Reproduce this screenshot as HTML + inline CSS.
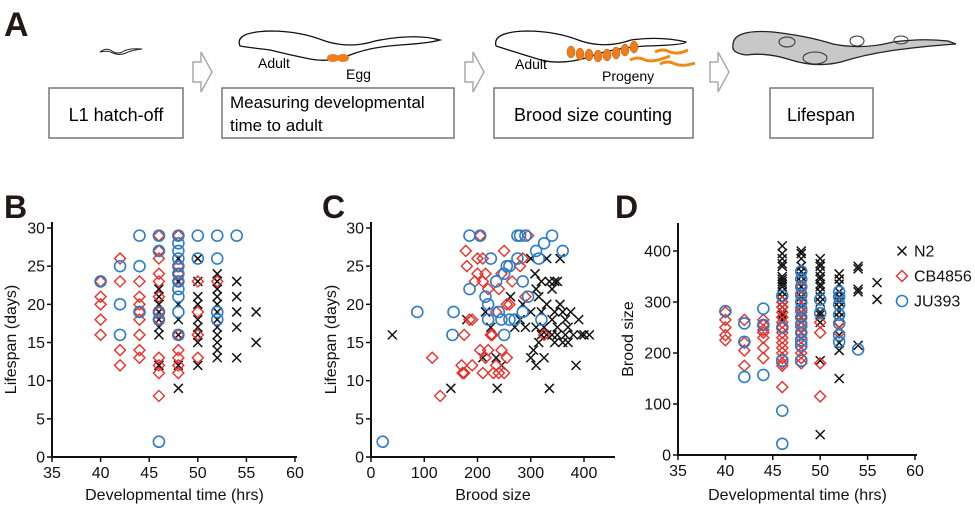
<!DOCTYPE html>
<html><head><meta charset="utf-8"><style>
html,body{margin:0;padding:0;background:#fff;}
svg{display:block;font-family:"Liberation Sans",Arial,sans-serif;}
</style></head><body>
<svg id="fig" width="975" height="506" viewBox="0 0 975 506" xmlns="http://www.w3.org/2000/svg">
<g>
<text x="4" y="36" font-size="34" font-weight="bold" fill="#231815">A</text>
<path d="M100,52 q6,-5 12,-1 q6,4 12,0 q6,-3 18,-2 q-10,1 -16,4 q-7,3 -13,0 q-6,-3 -13,-1z" fill="none" stroke="#222" stroke-width="1"/>
<path d="M240,46 q-6,-14 30,-15 q30,0 55,10 q25,8 50,0 q40,-8 65,-1 q-10,3 -40,5 q-30,2 -50,10 q-20,8 -40,4 q-20,-4 -40,-9 q-25,-3 -30,-4z" fill="#fff" stroke="#111" stroke-width="1.3"/>
<ellipse cx="333" cy="58" rx="6" ry="4" fill="#ee7d1c"/><ellipse cx="343" cy="58" rx="6" ry="4" fill="#ee7d1c"/>
<text x="258" y="68" font-size="14">Adult</text>
<text x="346" y="79" font-size="14">Egg</text>
<path d="M496,46 q-4,-14 30,-15 q30,0 55,10 q25,8 50,-1 q30,-4 55,2 q0,3 -40,4 q-35,2 -60,12 q-25,7 -45,2 q-20,-6 -45,-14z" fill="#fff" stroke="#111" stroke-width="1.3"/>
<g fill="#ee7d1c" stroke="#b85a10" stroke-width="0.5">
<ellipse cx="571" cy="52" rx="4" ry="6"/><ellipse cx="580" cy="54" rx="4" ry="6"/><ellipse cx="589" cy="55" rx="4" ry="6"/><ellipse cx="598" cy="56" rx="4" ry="6"/><ellipse cx="607" cy="55" rx="4" ry="6"/><ellipse cx="616" cy="53" rx="4" ry="6"/><ellipse cx="625" cy="50" rx="4" ry="6"/><ellipse cx="634" cy="47" rx="4" ry="6"/></g>
<g fill="none" stroke="#ee8a1c" stroke-width="3">
<path d="M655,52 q8,-4 15,0 q8,3 18,-2"/><path d="M630,60 q8,-4 15,0 q8,3 25,-4"/><path d="M660,64 q8,-4 15,0 q8,3 20,-1"/></g>
<text x="515" y="69" font-size="14">Adult</text>
<text x="602" y="81" font-size="14">Progeny</text>
<path d="M733,45 q0,-16 40,-13 q35,4 60,12 q30,6 60,-2 q30,-4 55,-1 l8,3 q-30,2 -60,6 q-30,4 -55,12 q-25,6 -50,-2 q-25,-8 -45,-5 q-15,-2 -13,-10z" fill="#c8c8c8" stroke="#222" stroke-width="1.3"/>
<g fill="none" stroke="#333" stroke-width="1"><ellipse cx="787" cy="42" rx="8" ry="5"/><ellipse cx="815" cy="58" rx="12" ry="6"/><ellipse cx="857" cy="41" rx="7" ry="5"/><ellipse cx="901" cy="40" rx="7" ry="4"/></g>
<g fill="#fff" stroke="#aaa" stroke-width="1.5">
<path d="M193,62 h8 v-10 l11,20 l-11,20 v-10 h-8z"/><path d="M465,62 h8 v-10 l11,20 l-11,20 v-10 h-8z"/><path d="M710,62 h8 v-10 l11,20 l-11,20 v-10 h-8z"/></g>
<g fill="#fff" stroke="#777" stroke-width="1.5">
<rect x="49" y="88" width="134" height="50"/>
<rect x="222" y="88" width="232" height="50"/>
<rect x="494" y="88" width="199" height="50"/>
<rect x="770" y="88" width="103" height="50"/></g>
<text x="116" y="121" font-size="18" text-anchor="middle">L1 hatch-off</text>
<text x="230" y="108" font-size="17">Measuring developmental</text>
<text x="230" y="131" font-size="17">time to adult</text>
<text x="593" y="121" font-size="18" text-anchor="middle">Brood size counting</text>
<text x="821" y="121" font-size="18" text-anchor="middle">Lifespan</text>
</g>
</svg>
<script>
// Panel B: developmental time vs lifespan
const bN2X=[46,46,46,46,46,46,46,46,46,48,48,48,48,48,48,48,50,50,50,50,50,50,50,50,50,52,52,52,52,52,52,52,52,52,52,52,52,54,54,54,54,54,56,56];
const bN2Y=[22,21,20,19,18,17,16,12,12,26,23,20,18,16,12,9,26,23,21,20,18,17,16,15,12,24,23,22,21,20,19,18,17,16,15,14,13,23,21,19,17,13,19,15];
const bCBX=[40,40,40,40,40,42,42,42,42,44,44,44,44,44,44,44,44,46,46,46,46,46,46,46,46,46,46,46,46,48,48,48,48,48,48,48,48,48,50,50,50,50,52];
const bCBY=[23,21,20,18,16,26,23,14,12,23,21,20,19,18,16,14,13,29,27,26,24,23,21,19,18,13,12,11,8,29,25,24,23,16,14,13,12,11,23,19,16,13,23];
const bJUX=[40,42,42,42,44,44,44,46,46,46,46,46,48,48,48,48,48,48,48,48,48,48,48,50,50,52,52,52,52,54];
const bJUY=[23,25,20,16,29,25,19,29,27,19,18,2,29,28,27,26,25,24,23,22,21,19,16,29,26,29,26,19,18,29];
// Panel C: brood size vs lifespan
const cN2X=[40,150,180,210,215,225,235,237,245,262,270,280,285,290,300,305,300,308,310,315,320,325,330,335,340,345,350,355,310,320,330,340,345,350,355,360,365,370,375,380,385,390,395,400,410,335,300,310,320,330,340,350,360,365,370,325,315,345];
const cN2Y=[16,9,18,13,19,17,13,9,12,21,17,18,20,17,26,14,13,24,12,21,19,13,26,23,22,23,23,26,17,16,16,16,15,16,20,19,18,17,19,16,12,18,16,16,16,9,19,22,23,20,18,17,15,16,15,17,15,19];
const cCBX=[115,130,170,172,175,175,178,180,185,190,190,195,200,200,205,205,210,210,210,215,215,220,220,225,228,230,235,235,240,240,245,245,250,250,255,255,260,265,280,285,290,295,325];
const cCBY=[13,8,12,11,11,16,27,25,18,18,12,23,24,26,14,29,23,26,11,13,24,22,14,16,16,11,19,12,11,22,24,14,27,11,13,20,20,23,25,26,21,29,16];
const cJUX=[22,87,155,153,185,185,205,215,220,220,225,235,240,245,250,250,255,260,260,270,275,275,280,285,285,290,295,310,315,320,325,340,360];
const cJUY=[2,19,19,16,29,22,29,21,20,18,26,23,19,18,16,24,25,25,18,18,29,26,29,23,19,29,21,27,26,18,28,29,27];
// Panel D: developmental time vs brood size
const dN2X=[46,46,46,46,46,46,46,46,46,46,46,46,46,46,46,46,46,48,48,48,48,48,48,48,48,48,48,48,48,48,48,48,50,50,50,50,50,50,50,50,50,50,50,50,50,50,50,50,52,52,52,52,52,52,52,52,52,52,52,52,52,52,54,54,54,54,54,56,56];
const dN2Y=[410,395,385,375,370,350,345,340,335,330,320,310,300,290,280,275,265,400,395,385,370,360,350,340,330,320,310,300,290,280,270,260,385,375,370,360,350,345,335,330,320,310,300,280,275,260,185,40,355,345,335,320,310,300,290,280,270,250,235,220,205,150,370,365,325,320,215,338,305];
const dCBX=[40,40,40,40,40,42,42,42,42,44,44,44,44,44,44,44,46,46,46,46,46,46,46,46,46,46,46,46,46,46,46,48,48,48,48,48,48,48,48,48,48,48,48,48,48,50,50,50,50,52,52];
const dCBY=[280,265,250,235,225,265,220,205,175,265,255,245,240,230,210,190,300,290,280,270,260,250,240,230,220,210,200,190,180,175,133,330,310,290,280,270,260,250,240,230,220,210,200,190,180,260,240,180,115,260,240];
const dJUX=[40,42,42,42,44,44,44,46,46,46,46,46,48,48,48,48,48,48,48,48,48,48,48,48,50,50,52,52,52,52,52,52,52,54];
const dJUY=[282,258,222,153,287,255,157,312,250,185,87,22,360,345,330,315,300,285,270,255,240,225,215,185,305,278,320,310,295,275,258,235,222,207];
const bXTicks=[35,40,45,50,55,60], bYTicks=[0,5,10,15,20,25,30];
const cXTicks=[0,100,200,300,400], cYTicks=[0,5,10,15,20,25,30];
const dXTicks=[35,40,45,50,55,60], dYTicks=[0,100,200,300,400];
const legendLabels=["N2","CB4856","JU393"];

const NS="http://www.w3.org/2000/svg";
const svg=document.getElementById('fig');
const RED="#e8302a", BLUE="#2f7cc6";
function mk(tag,attrs,parent){const e=document.createElementNS(NS,tag);for(const k in attrs)e.setAttribute(k,attrs[k]);(parent||svg).appendChild(e);return e;}
function lin(d0,d1,r0,r1){return v=>r0+(v-d0)*(r1-r0)/(d1-d0);}
function marker(g,type,px,py){
  let e;
  if(type==='x'){e=mk('path',{d:`M${px-4.5},${py-4.5}L${px+4.5},${py+4.5}M${px+4.5},${py-4.5}L${px-4.5},${py+4.5}`,stroke:'#111','stroke-width':1.5,fill:'none'},g);}
  else if(type==='d'){e=mk('path',{d:`M${px},${py-5.5}L${px+5.5},${py}L${px},${py+5.5}L${px-5.5},${py}Z`,stroke:RED,'stroke-width':1.4,fill:'none'},g);}
  else {e=mk('circle',{cx:px,cy:py,r:5.5,stroke:BLUE,'stroke-width':1.6,fill:'none'},g);}
  return e;
}
function panel(o){
  const g=mk('g',{});
  
  
  const sx=lin(o.xd[0],o.xd[1],o.x0,o.x1), sy=lin(o.yd[0],o.yd[1],o.y0,o.y1);
  const lab=mk('text',{x:o.lx,y:218,'font-size':32,'font-weight':'bold',fill:'#231815'},g);lab.textContent=o.id.toUpperCase();
  
  
  const series=[[o.s[0],o.s[1],'x','n2'],[o.s[2],o.s[3],'d','cb4856'],[o.s[4],o.s[5],'o','ju393']];
  series.forEach(s=>{
    const sg=mk('g',{},g);
    
    
    s[0].forEach((xv,i)=>{const m=marker(sg,s[2],sx(xv),sy(s[1][i]));
      
      });
  });
  const ax=mk('path',{d:`M${o.x0},${o.ytop}V${o.y0}H${o.xend}`,stroke:'#111','stroke-width':2,fill:'none'},g);
  
  
  o.xt.forEach(t=>{const x=sx(t);mk('line',{x1:x,x2:x,y1:o.y0,y2:o.y0+5,stroke:'#111','stroke-width':1.5},g);
    const tx=mk('text',{x:x,y:o.y0+21,'font-size':16,'text-anchor':'middle',fill:'#111'},g);tx.textContent=t;
    
    });
  o.yt.forEach(t=>{const y=sy(t);mk('line',{x1:o.x0-5,x2:o.x0,y1:y,y2:y,stroke:'#111','stroke-width':1.5},g);
    const tx=mk('text',{x:o.x0-7,y:y+5.5,'font-size':16,'text-anchor':'end',fill:'#111'},g);tx.textContent=t;
    
    });
  const xt=mk('text',{x:(o.x0+o.xend)/2,y:500,'font-size':16,'text-anchor':'middle',fill:'#111'},g);xt.textContent=o.xl;
  
  
  const yc=(o.y0+o.ytop)/2;
  const yt=mk('text',{x:o.ylx,y:yc,'font-size':16,'text-anchor':'middle',fill:'#111',transform:`rotate(-90 ${o.ylx} ${yc})`},g);yt.textContent=o.yl;
  
  
}
panel({id:'b',lx:4,x0:52,x1:295,xend:297,xd:[35,60],y0:457,y1:228,ytop:222,yd:[0,30],xt:bXTicks,yt:bYTicks,
  s:[bN2X,bN2Y,bCBX,bCBY,bJUX,bJUY],xl:'Developmental time (hrs)',yl:'Lifespan (days)',ylx:16});
panel({id:'c',lx:322,x0:371,x1:584,xend:615,xd:[0,400],y0:457,y1:228,ytop:222,yd:[0,30],xt:cXTicks,yt:cYTicks,
  s:[cN2X,cN2Y,cCBX,cCBY,cJUX,cJUY],xl:'Brood size',yl:'Lifespan (days)',ylx:336});
panel({id:'d',lx:615,x0:678,x1:915,xend:917,xd:[35,60],y0:455,y1:251,ytop:223,yd:[0,400],xt:dXTicks,yt:dYTicks,
  s:[dN2X,dN2Y,dCBX,dCBY,dJUX,dJUY],xl:'Developmental time (hrs)',yl:'Brood size',ylx:633});
// legend
const lg=mk('g',{});


['x','d','o'].forEach((t,i)=>{const y=251+i*25;
  const e=mk('g',{},lg);
  
  
  marker(e,t,902,y);
  const tx=mk('text',{x:914,y:y+5.5,'font-size':16,fill:'#111'},e);tx.textContent=legendLabels[i];});
</script>
</body></html>
